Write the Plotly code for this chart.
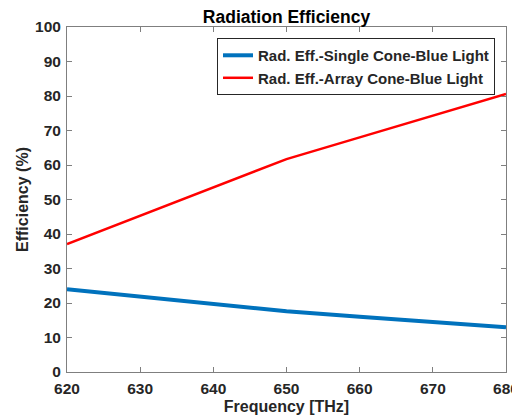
import plotly.graph_objects as go

freq = [620, 630, 640, 650, 660, 670, 680]
single_cone = [24.0, 21.8, 19.8, 17.6, 16.0, 14.5, 13.0]
array_cone = [37.1, 45.3, 53.6, 61.7, 68.0, 74.3, 80.6]
x_ticks = [620, 630, 640, 650, 660, 670, 680]
y_ticks = [0, 10, 20, 30, 40, 50, 60, 70, 80, 90, 100]

FONT = "Liberation Sans, Arial, Helvetica, sans-serif"
TXT = "#262626"
AX = "#7f7f7f"

fig = go.Figure()
fig.add_trace(go.Scatter(x=freq, y=single_cone, mode="lines",
                         name="Rad. Eff.-Single Cone-Blue Light",
                         line=dict(color="#0072BD", width=4)))
fig.add_trace(go.Scatter(x=freq, y=array_cone, mode="lines",
                         name="Rad. Eff.-Array Cone-Blue Light",
                         line=dict(color="#FF0000", width=2.5)))

axis_common = dict(showgrid=False, zeroline=False, showline=True, linecolor=AX, linewidth=1,
                   ticks="inside", ticklen=5, tickcolor=AX, mirror="ticks", automargin=False,
                   tickfont=dict(family=FONT, size=15.5, color=TXT, weight="bold"))

fig.update_xaxes(range=[620, 680], tickvals=x_ticks, ticklabelstandoff=2,
                 title=dict(text="<b>Frequency [THz]</b>", font=dict(family=FONT, size=16, color=TXT), standoff=5),
                 **axis_common)
fig.update_yaxes(range=[0, 100], tickvals=y_ticks, ticklabelstandoff=2,
                 title=dict(text="<b>Efficiency (%)</b>", font=dict(family=FONT, size=16, color=TXT), standoff=2),
                 **axis_common)

fig.update_layout(
    width=520, height=420,
    margin=dict(l=59, r=22, t=19, b=56),
    paper_bgcolor="white", plot_bgcolor="white",
    title=dict(text="<b>Radiation Efficiency</b>", xref="paper", x=0.5, xanchor="center",
               yref="container", y=0.979, yanchor="middle",
               font=dict(family=FONT, size=17.5, color="black")),
    legend=dict(x=0.975, xanchor="right", y=0.968, yanchor="top",
                bgcolor="white", bordercolor="#262626", borderwidth=1,
                font=dict(family=FONT, size=15, color=TXT, weight="bold"),
                tracegroupgap=0, itemwidth=30),
    font=dict(family=FONT),
)

fig.write_html("out.html")
